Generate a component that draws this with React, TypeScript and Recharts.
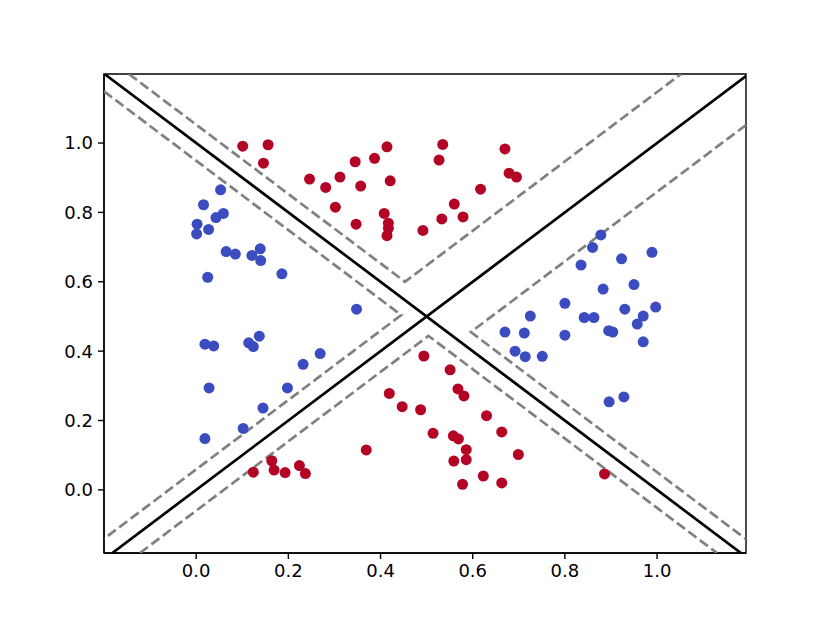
import React from "react";
import {
  ScatterChart,
  Scatter,
  XAxis,
  YAxis,
  ReferenceArea,
} from "recharts";

// class 1 (red) points
const redX = [
  0.101, 0.156, 0.146, 0.414, 0.345, 0.387, 0.246, 0.281, 0.312, 0.357, 0.421, 0.302, 0.408, 0.347,
  0.417, 0.417, 0.414, 0.492, 0.535, 0.527, 0.67, 0.679, 0.695, 0.617, 0.56, 0.533, 0.579,
  0.494, 0.551, 0.568, 0.581, 0.487, 0.63, 0.514, 0.558, 0.569, 0.663, 0.586, 0.559, 0.586, 0.699,
  0.623, 0.663, 0.578, 0.886, 0.419, 0.447, 0.369, 0.164, 0.124, 0.169, 0.193, 0.224, 0.237,
];
const redY = [
  0.991, 0.995, 0.942, 0.989, 0.946, 0.956, 0.896, 0.872, 0.902, 0.876, 0.891, 0.815, 0.797, 0.766,
  0.769, 0.754, 0.733, 0.748, 0.996, 0.951, 0.983, 0.913, 0.902, 0.867, 0.824, 0.781, 0.787,
  0.386, 0.346, 0.291, 0.271, 0.231, 0.214, 0.163, 0.156, 0.147, 0.167, 0.116, 0.083, 0.087, 0.102,
  0.04, 0.02, 0.016, 0.046, 0.278, 0.24, 0.115, 0.084, 0.051, 0.057, 0.05, 0.07, 0.047,
];

// class 0 (blue) points
const blueX = [
  0.053, 0.016, 0.059, 0.043, 0.002, 0.001, 0.027, 0.065, 0.085, 0.121, 0.139, 0.14, 0.025, 0.186,
  0.348, 0.019, 0.038, 0.114, 0.124, 0.137, 0.232, 0.269, 0.028, 0.198, 0.145, 0.102, 0.019,
  0.878, 0.86, 0.835, 0.923, 0.989, 0.883, 0.95, 0.8, 0.93, 0.997, 0.97, 0.725, 0.842, 0.863,
  0.957, 0.67, 0.712, 0.8, 0.895, 0.904, 0.97, 0.692, 0.714, 0.751, 0.896, 0.928,
];
const blueY = [
  0.865, 0.822, 0.797, 0.785, 0.766, 0.738, 0.751, 0.687, 0.68, 0.676, 0.695, 0.661, 0.613, 0.623,
  0.521, 0.42, 0.415, 0.424, 0.413, 0.443, 0.362, 0.393, 0.294, 0.294, 0.236, 0.177, 0.148,
  0.735, 0.699, 0.648, 0.666, 0.685, 0.579, 0.592, 0.538, 0.521, 0.527, 0.501, 0.501, 0.497, 0.497,
  0.478, 0.455, 0.452, 0.446, 0.459, 0.455, 0.427, 0.4, 0.384, 0.385, 0.254, 0.268,
];

// decision boundary (solid) and margins (dashed), as polylines
const boundaryA = [
  { x: -0.199, y: 1.199 },
  { x: 1.182, y: -0.182 },
];
const boundaryB = [
  { x: -0.182, y: -0.182 },
  { x: 1.193, y: 1.193 },
];
const marginTop = [
  { x: -0.146, y: 1.199 },
  { x: 0.453, y: 0.6 },
  { x: 1.052, y: 1.199 },
];
const marginLeft = [
  { x: -0.2, y: 1.149 },
  { x: 0.445, y: 0.504 },
  { x: -0.2, y: -0.141 },
];
const marginRight = [
  { x: 1.193, y: 1.052 },
  { x: 0.596, y: 0.455 },
  { x: 1.193, y: -0.142 },
];
const marginBottom = [
  { x: -0.122, y: -0.182 },
  { x: 0.504, y: 0.444 },
  { x: 1.13, y: -0.182 },
];

const ticks = [0, 0.2, 0.4, 0.6, 0.8, 1.0];
const xDomain = [-0.2, 1.193];
const yDomain = [-0.182, 1.199];

const RED = "#b40426";
const BLUE = "#3b4cc0";
const DASH = "#808080";

const toPoints = (xs: number[], ys: number[]) => xs.map((x, i) => ({ x, y: ys[i] }));

const noDot = () => <g />;

const tickStyle = { fontFamily: "DejaVu Sans", fontSize: 18, fill: "#000" };

export default function App() {
  const red = toPoints(redX, redY);
  const blue = toPoints(blueX, blueY);
  const margins = [marginTop, marginLeft, marginRight, marginBottom];

  return (
    <div style={{ position: "absolute", left: 0, top: 0, width: 830, height: 623, background: "#fff" }}>
      <ScatterChart width={830} height={623} margin={{ top: 74, right: 84, left: 44, bottom: 30 }}>
        <XAxis
          type="number"
          dataKey="x"
          domain={xDomain}
          allowDataOverflow
          ticks={ticks}
          tickFormatter={(v) => v.toFixed(1)}
          height={40}
          tickSize={6}
          tickMargin={5}
          axisLine={{ stroke: "#000", strokeWidth: 1.4 }}
          tickLine={{ stroke: "#000", strokeWidth: 1.4 }}
          tick={tickStyle}
        />
        <YAxis
          type="number"
          dataKey="y"
          domain={yDomain}
          allowDataOverflow
          ticks={ticks}
          tickFormatter={(v) => v.toFixed(1)}
          width={60}
          tickSize={6}
          tickMargin={5}
          axisLine={{ stroke: "#000", strokeWidth: 1.4 }}
          tickLine={{ stroke: "#000", strokeWidth: 1.4 }}
          tick={tickStyle}
        />
        <ReferenceArea
          x1={xDomain[0]}
          x2={xDomain[1]}
          y1={yDomain[0]}
          y2={yDomain[1]}
          fill="none"
          stroke="#000"
          strokeWidth={1.4}
          ifOverflow="visible"
        />
        {margins.map((m, i) => (
          <Scatter
            key={`m${i}`}
            data={m}
            line={{ stroke: DASH, strokeWidth: 2.7, strokeDasharray: "10 4.3" }}
            shape={noDot}
            isAnimationActive={false}
          />
        ))}
        <Scatter data={boundaryA} line={{ stroke: "#000", strokeWidth: 2.7 }} shape={noDot} isAnimationActive={false} />
        <Scatter data={boundaryB} line={{ stroke: "#000", strokeWidth: 2.7 }} shape={noDot} isAnimationActive={false} />
        <Scatter
          data={blue}
          fill={BLUE}
          shape={(p: any) => <circle cx={p.cx} cy={p.cy} r={5.5} fill={BLUE} />}
          isAnimationActive={false}
        />
        <Scatter
          data={red}
          fill={RED}
          shape={(p: any) => <circle cx={p.cx} cy={p.cy} r={5.5} fill={RED} />}
          isAnimationActive={false}
        />
      </ScatterChart>
    </div>
  );
}
